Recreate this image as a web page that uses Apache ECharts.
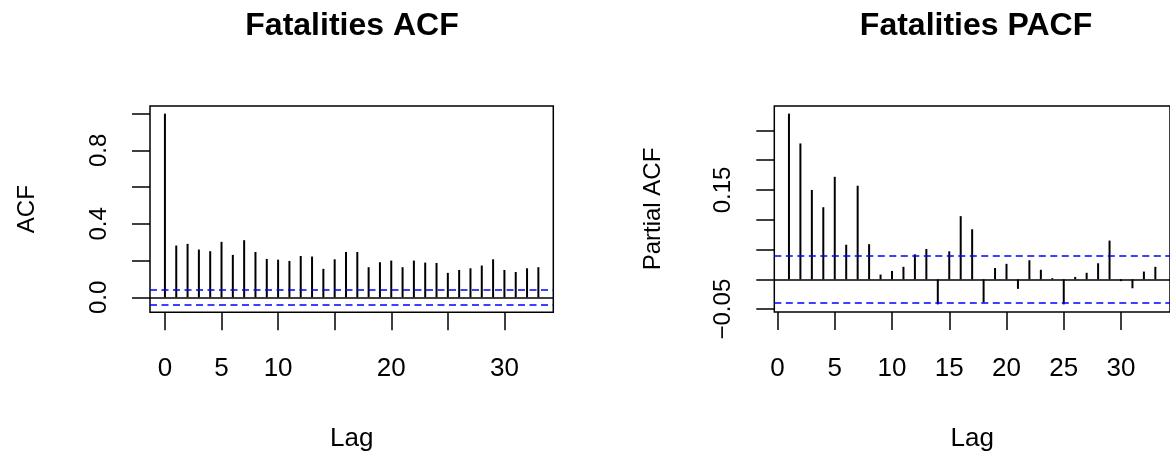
<!DOCTYPE html>
<html><head><meta charset="utf-8">
<script src="https://cdn.jsdelivr.net/npm/echarts@6/dist/echarts.min.js"></script>
<style>html,body{margin:0;padding:0;background:#fff}#c{width:1170px;height:458px}</style>
</head><body><div id="c"></div>
<script>
// ---- data ----
const acfLags = [0,1,2,3,4,5,6,7,8,9,10,11,12,13,14,15,16,17,18,19,20,21,22,23,24,25,26,27,28,29,30,31,32,33];
const acfValues = [1.0,0.282,0.291,0.260,0.251,0.302,0.231,0.311,0.247,0.209,0.205,0.198,0.225,0.222,0.155,0.207,0.247,0.247,0.164,0.191,0.200,0.164,0.200,0.189,0.187,0.133,0.149,0.158,0.173,0.207,0.149,0.138,0.158,0.164];
const pacfLags = [1,2,3,4,5,6,7,8,9,10,11,12,13,14,15,16,17,18,19,20,21,22,23,24,25,26,27,28,29,30,31,32,33];
const pacfValues = [0.278,0.228,0.150,0.121,0.172,0.058,0.157,0.059,0.008,0.014,0.021,0.042,0.051,-0.042,0.047,0.106,0.084,-0.039,0.019,0.026,-0.016,0.032,0.016,0.002,-0.042,0.004,0.011,0.027,0.065,-0.003,-0.015,0.013,0.021];
const ciBound = 0.0405;
const acfXTicks = [0,5,10,15,20,25,30];
const acfXLabels = [0,5,10,20,30];
const acfYTicks = [0,0.2,0.4,0.6,0.8,1.0];
const acfYLabels = [0,0.4,0.8];
const pacfXTicks = [0,5,10,15,20,25,30];
const pacfXLabels = [0,5,10,15,20,25,30];
const pacfYTicks = [-0.05,0,0.05,0.1,0.15,0.2,0.25];
const pacfYLabels = [-0.05,0.15];
const titles = ['Fatalities ACF','Fatalities PACF'];
const yNames = ['ACF','Partial ACF'];
const xName = 'Lag';

const FONT = '"Liberation Sans", Arial, Helvetica, sans-serif';
const chart = echarts.init(document.getElementById('c'), null, {renderer:'canvas'});

function xAxis(gi, min, max, ticks, labels){
  return {
    type:'value', gridIndex:gi, min:min, max:max, position:'bottom',
    name:xName, nameLocation:'middle', nameGap:114,
    nameTextStyle:{fontFamily:FONT,fontSize:26,color:'#000'},
    axisLine:{show:false,onZero:false},
    splitLine:{show:false},
    axisTick:{show:true,inside:false,length:18,customValues:ticks,lineStyle:{color:'#000',width:1.5}},
    axisLabel:{show:true,margin:44,customValues:labels,fontFamily:FONT,fontSize:26,color:'#000',
      formatter:v=>String(v)}
  };
}
function yAxis(gi, min, max, ticks, labels, name, gap, fmt){
  return {
    type:'value', gridIndex:gi, min:min, max:max, position:'left',
    name:name, nameLocation:'middle', nameGap:gap,
    nameTextStyle:{fontFamily:FONT,fontSize:24,color:'#000'},
    axisLine:{show:false,onZero:false},
    splitLine:{show:false},
    axisTick:{show:true,inside:false,length:18,customValues:ticks,lineStyle:{color:'#000',width:1.5}},
    axisLabel:{show:true,margin:39,rotate:90,customValues:labels,fontFamily:FONT,fontSize:24,color:'#000',
      formatter:fmt}
  };
}
function refLines(){
  const dash = {color:'#0000ff',type:[7,4.5],width:1.5};
  return {
    silent:true, symbol:['none','none'], label:{show:false}, animation:false,
    emphasis:{disabled:true},
    data:[
      {yAxis:ciBound, lineStyle:dash},
      {yAxis:-ciBound, lineStyle:dash},
      {yAxis:0, lineStyle:{color:'#000',type:'solid',width:1.5}}
    ]
  };
}

chart.setOption({
  animation:false,
  backgroundColor:'#fff',
  title:[
    {text:titles[0], left:347, top:5, textAlign:'center',
     textStyle:{fontFamily:FONT,fontSize:32,fontWeight:'bold',color:'#000'}},
    {text:titles[1], left:971, top:5, textAlign:'center',
     textStyle:{fontFamily:FONT,fontSize:32,fontWeight:'bold',color:'#000'}}
  ],
  grid:[
    {left:150, top:106, width:403.3, height:206.3, show:true, borderColor:'#000', borderWidth:1.5, backgroundColor:'transparent'},
    {left:774.3, top:106, width:402.7, height:206, show:true, borderColor:'#000', borderWidth:1.5, backgroundColor:'transparent'}
  ],
  xAxis:[
    xAxis(0,-1.32,34.32,acfXTicks,acfXLabels),
    xAxis(1,-0.28,34.28,pacfXTicks,pacfXLabels)
  ],
  yAxis:[
    yAxis(0,-0.0816,1.0416,acfYTicks,acfYLabels,yNames[0],111,v=>v.toFixed(1)),
    yAxis(1,-0.0548,0.2908,pacfYTicks,pacfYLabels,yNames[1],109,v=>(v<0?'\u2212'+Math.abs(v).toFixed(2):v.toFixed(2)))
  ],
  series:[
    {type:'bar', xAxisIndex:0, yAxisIndex:0, barWidth:2, itemStyle:{color:'#000'},
     emphasis:{disabled:true}, silent:true,
     data:acfLags.map((l,i)=>[l,acfValues[i]]), markLine:refLines()},
    {type:'bar', xAxisIndex:1, yAxisIndex:1, barWidth:2, itemStyle:{color:'#000'},
     emphasis:{disabled:true}, silent:true,
     data:pacfLags.map((l,i)=>[l,pacfValues[i]]), markLine:refLines()}
  ]
});
</script>
</body></html>
